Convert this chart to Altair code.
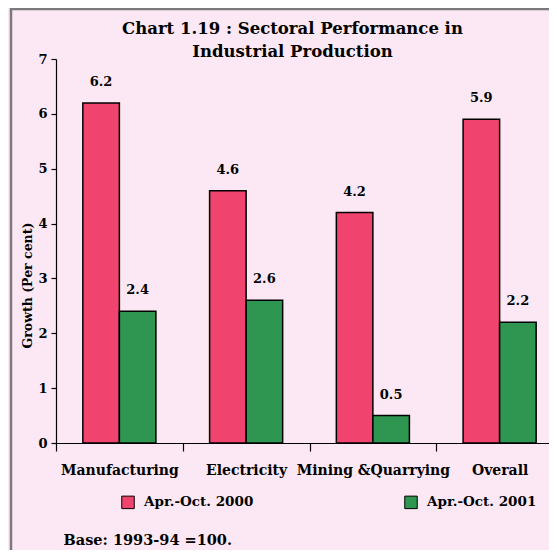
import altair as alt
import pandas as pd

categories = ["Manufacturing", "Electricity", "Mining &Quarrying", "Overall"]
series = ["Apr.-Oct. 2000", "Apr.-Oct. 2001"]
values_2000 = [6.2, 4.6, 4.2, 5.9]
values_2001 = [2.4, 2.6, 0.5, 2.2]
y_ticks = [0, 1, 2, 3, 4, 5, 6, 7]
colors = ["#F0446E", "#2E9650"]

rows = []
for c, a, b in zip(categories, values_2000, values_2001):
    rows.append({"sector": c, "period": series[0], "growth": a, "label": f"{a:.1f}"})
    rows.append({"sector": c, "period": series[1], "growth": b, "label": f"{b:.1f}"})
df = pd.DataFrame(rows)

SERIF = "DejaVu Serif"

x_enc = alt.X(
    "sector:N",
    sort=categories,
    scale=alt.Scale(paddingInner=0, paddingOuter=0, range=[0, 507]),
    axis=alt.Axis(
        title="Base: 1993-94 =100.",
        titleX=7, titleY=97, titleAlign="left", titleBaseline="middle",
        titleFont=SERIF, titleFontSize=14.5, titleFontWeight="bold", titleColor="black",
        labelAngle=0, labelFont=SERIF, labelFontSize=14, labelFontWeight="bold",
        labelColor="black", labelPadding=12, labelLimit=200,
        tickBand="extent", tickSize=8, tickColor="black", domainColor="black",
        domainWidth=1.2, tickWidth=1.2,
    ),
)
xoff = alt.XOffset("period:N", sort=series, scale=alt.Scale(paddingInner=0, paddingOuter=0.735))
y_enc = alt.Y(
    "growth:Q",
    scale=alt.Scale(domain=[0, 7], nice=False),
    axis=alt.Axis(
        values=y_ticks, format="d", title="Growth (Per cent)",
        titleX=-29, titleY=226, titleAlign="center", titleBaseline="middle", titleAngle=270,
        titleFont=SERIF, titleFontSize=12.5, titleFontWeight="bold", titleColor="black",
        labelFont=SERIF, labelFontSize=13, labelFontWeight="bold", labelColor="black",
        labelPadding=4, tickSize=5, tickColor="black", domainColor="black",
        domainWidth=1.2, tickWidth=1.2, grid=False,
    ),
)

base = alt.Chart(df)

bars = base.mark_bar(stroke="black", strokeWidth=1.5).encode(
    x=x_enc,
    xOffset=xoff,
    y=y_enc,
    color=alt.Color(
        "period:N", sort=series,
        scale=alt.Scale(domain=series, range=colors),
        legend=alt.Legend(
            title=None, orient="none", legendX=65, legendY=436,
            direction="horizontal", columns=2, columnPadding=148,
            symbolType="square", symbolSize=156, symbolStrokeColor="black",
            symbolStrokeWidth=1, symbolOpacity=1, labelOffset=9,
            labelFont=SERIF, labelFontSize=13.5, labelFontWeight="bold",
            labelColor="black", labelLimit=300,
        ),
    ),
)

labels = base.mark_text(
    baseline="alphabetic", dy=-17, font=SERIF, fontSize=13, fontWeight="bold", color="black"
).encode(
    x=alt.X("sector:N", sort=categories),
    xOffset=xoff,
    y=alt.Y("growth:Q"),
    text="label:N",
)

frame_df = pd.DataFrame({"k": [0]})
left_border = alt.Chart(frame_df).mark_rule(color="#7a7a7a", strokeWidth=2.5).encode(
    x=alt.value(-45), y=alt.value(-51), y2=alt.value(500)
)
top_border = alt.Chart(frame_df).mark_rule(color="#7a7a7a", strokeWidth=2.5).encode(
    x=alt.value(-46), x2=alt.value(520), y=alt.value(-50)
)

chart = alt.layer(bars, labels, left_border, top_border).properties(
    width=493,
    height=384,
    autosize=alt.AutoSizeParams(type="none"),
    padding={"left": 48, "top": 51, "right": 0, "bottom": 107},
    background="#FCE8F4",
    title=alt.TitleParams(
        text=["Chart 1.19 : Sectoral Performance in", "Industrial Production"],
        font=SERIF, fontSize=16.5, fontWeight="bold", color="black",
        anchor="middle", frame="group", dx=-10, offset=-54, lineHeight=23,
    ),
).configure_view(stroke=None)

chart.save("out.html", embed_options={"renderer": "svg", "actions": False})
